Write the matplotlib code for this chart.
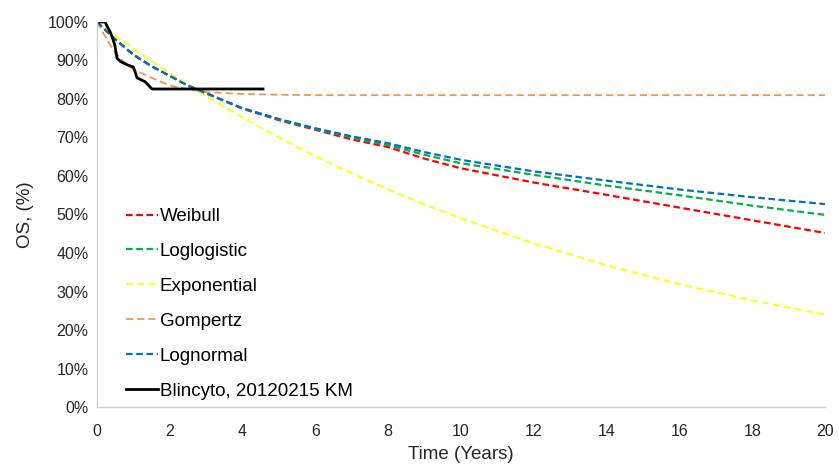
import matplotlib

matplotlib.use("Agg")
import matplotlib.pyplot as plt
from matplotlib.ticker import FuncFormatter

plt.rcParams["font.family"] = ["Liberation Sans", "DejaVu Sans"]

# model fits (years, survival fraction)
years = [0, 0.5, 1, 1.5, 2, 2.5, 3, 4, 5, 6, 7, 8, 9, 10, 12, 14, 16, 18, 20]
weibull = [1.0, 0.955, 0.915, 0.885, 0.86, 0.835, 0.815, 0.775, 0.745, 0.72, 0.695,
           0.675, 0.645, 0.62, 0.583, 0.551, 0.518, 0.485, 0.452]
loglogistic = [1.0, 0.955, 0.915, 0.885, 0.86, 0.835, 0.815, 0.775, 0.747, 0.722, 0.70,
               0.68, 0.655, 0.633, 0.603, 0.575, 0.55, 0.523, 0.499]
exponential = [1.0, 0.965, 0.931, 0.899, 0.867, 0.837, 0.807, 0.752, 0.70, 0.651, 0.607,
               0.565, 0.526, 0.49, 0.425, 0.368, 0.319, 0.277, 0.24]
lognormal = [1.0, 0.955, 0.915, 0.885, 0.86, 0.835, 0.815, 0.776, 0.748, 0.724, 0.703,
             0.685, 0.662, 0.642, 0.612, 0.588, 0.565, 0.545, 0.527]

gompertz_years = [0, 0.15, 0.3, 0.5, 0.75, 1, 1.5, 2, 2.5, 3, 4, 5, 6, 8, 10, 12, 14, 16, 18, 20]
gompertz = [1.0, 0.975, 0.95, 0.92, 0.895, 0.877, 0.855, 0.835, 0.825, 0.818, 0.813,
            0.811, 0.81, 0.81, 0.81, 0.81, 0.81, 0.81, 0.81, 0.81]

# Kaplan-Meier
km_years = [0, 0.22, 0.3, 0.36, 0.42, 0.49, 0.55, 0.65, 0.85, 1.0, 1.05, 1.1, 1.32, 1.42, 1.51, 4.56]
km_surv = [1.0, 1.0, 0.985, 0.975, 0.96, 0.94, 0.906, 0.897, 0.888, 0.883, 0.87, 0.855,
           0.845, 0.835, 0.826, 0.826]

x_ticks = list(range(0, 21, 2))
y_ticks = [i / 10 for i in range(11)]

fig = plt.figure(figsize=(8.39, 4.66), dpi=100)
ax = fig.add_axes([0.1156, 0.1266, 0.8677, 0.8262])

dash = (3, 1.6)
ax.plot(years, weibull, color="#ff0000", lw=1.6, dashes=dash, label="Weibull")
ax.plot(years, loglogistic, color="#00b050", lw=1.6, dashes=dash, label="Loglogistic")
ax.plot(years, exponential, color="#ffff00", lw=1.3, dashes=(4, 2.2), label="Exponential")
ax.plot(gompertz_years, gompertz, color="#f79646", lw=1.3, dashes=(4, 2.2), label="Gompertz")
ax.plot(years, lognormal, color="#0070c0", lw=1.6, dashes=dash, label="Lognormal")
ax.plot(km_years, km_surv, color="black", lw=2.0, label="Blincyto, 20120215 KM")

ax.set_xlim(0, 20)
ax.set_ylim(0, 1.0)
ax.set_xticks(x_ticks)
ax.set_yticks(y_ticks)
ax.yaxis.set_major_formatter(FuncFormatter(lambda v, _: f"{v * 100:.0f}%"))
ax.tick_params(length=0, labelsize=11.5, labelcolor="#262626")
ax.tick_params(axis="x", pad=12)
ax.tick_params(axis="y", pad=6)

for side in ("top", "right"):
    ax.spines[side].set_visible(False)
for side in ("left", "bottom"):
    ax.spines[side].set_color("#d0d0d0")
    ax.spines[side].set_linewidth(1.0)

ax.set_xlabel("Time (Years)", fontsize=13.5, color="#262626", labelpad=5)
ax.set_ylabel("OS, (%)", fontsize=13.5, color="#262626", labelpad=10)

ax.legend(loc="lower left", bbox_to_anchor=(0.017, -0.025), frameon=False, fontsize=13.5,
          labelspacing=0.95, handlelength=1.7, handletextpad=0.1)

fig.savefig("out.png", dpi=100)
